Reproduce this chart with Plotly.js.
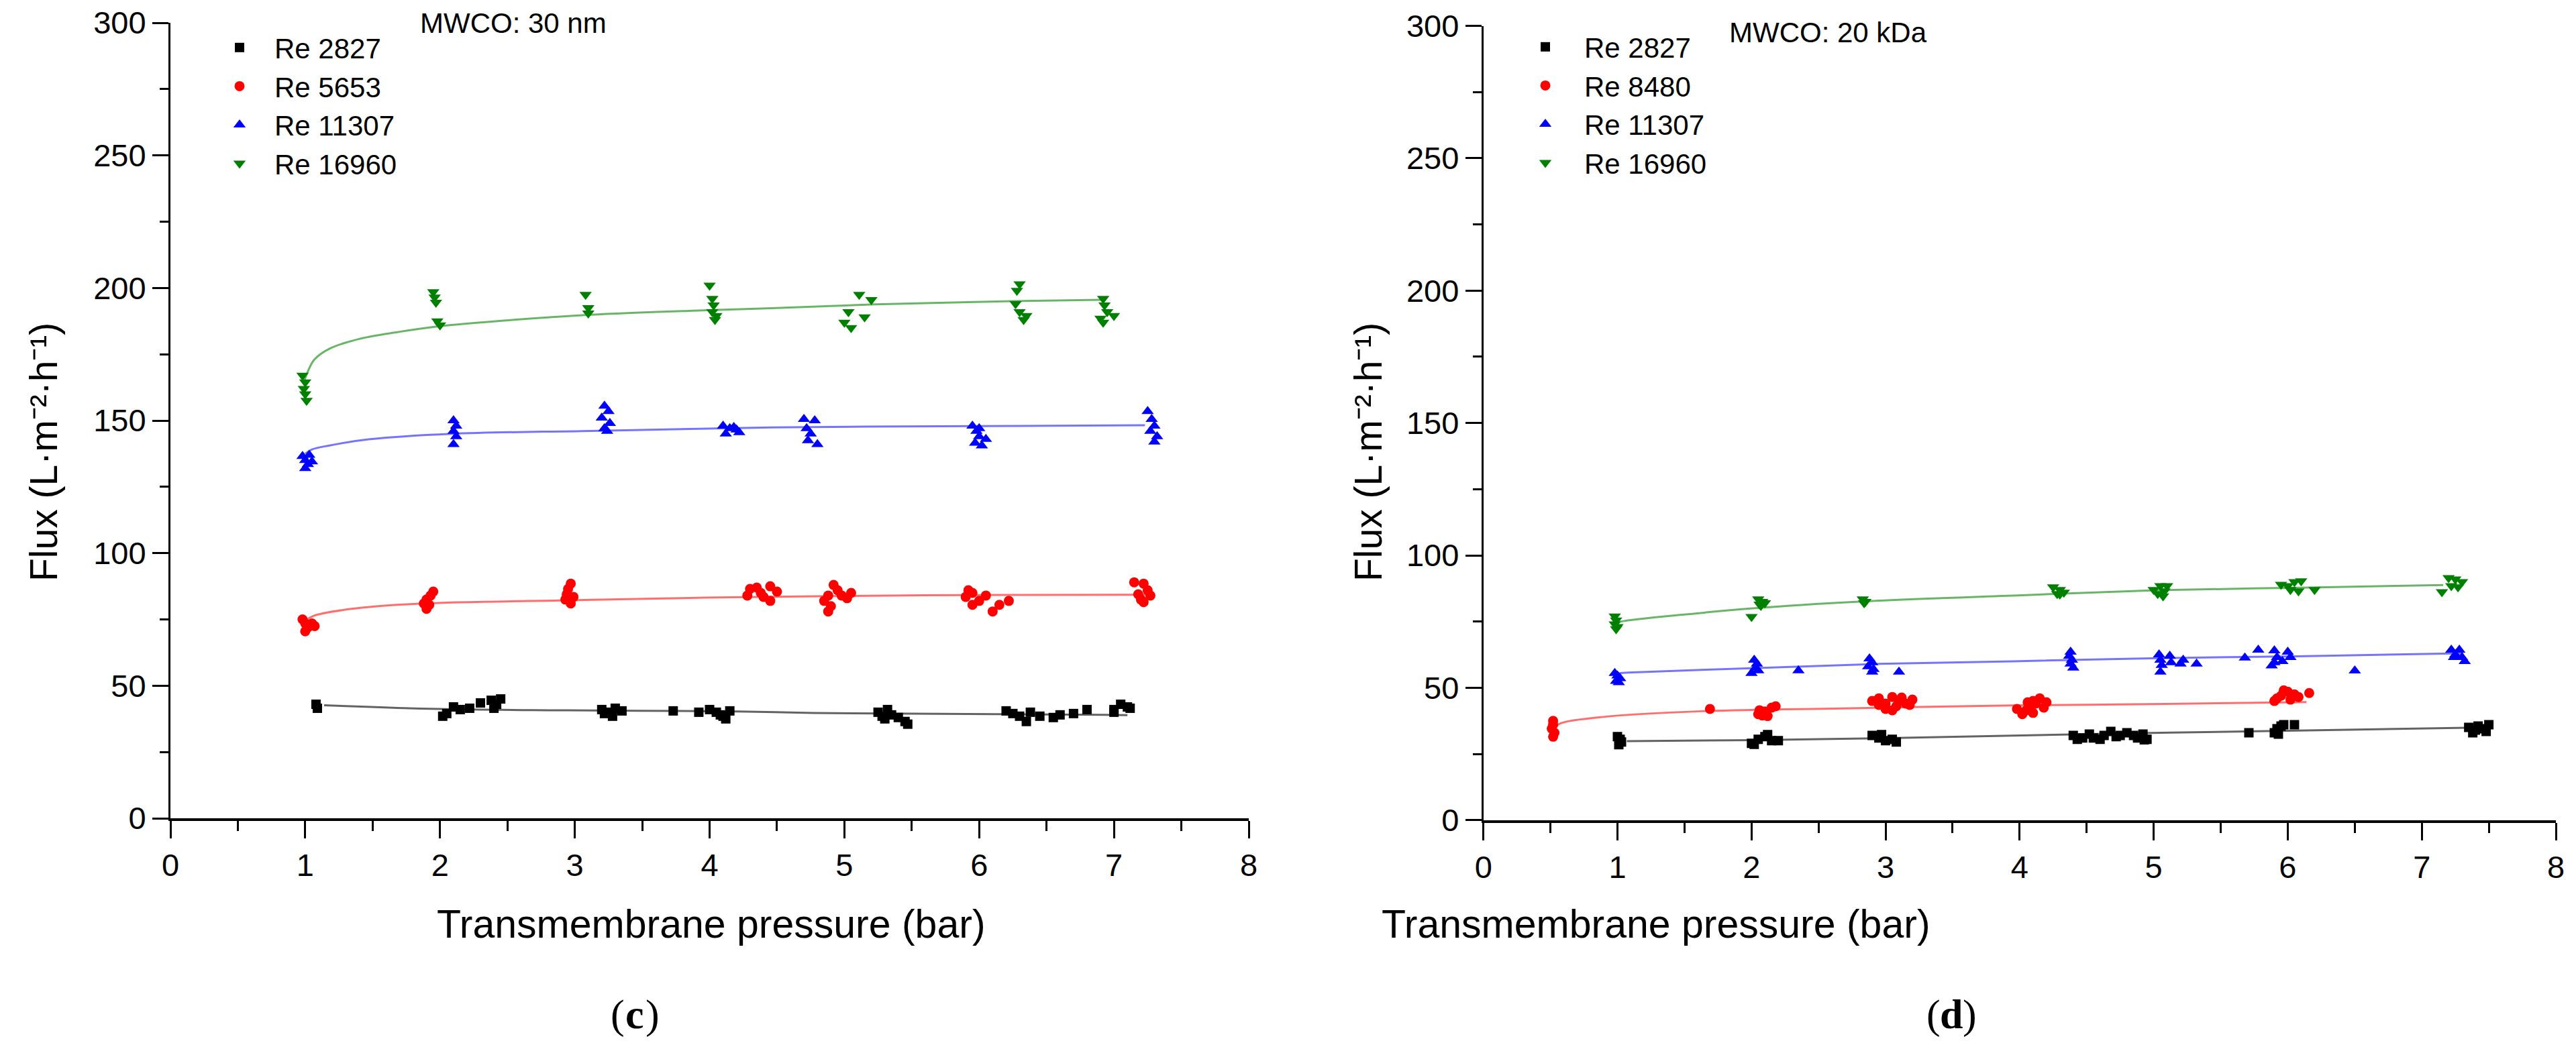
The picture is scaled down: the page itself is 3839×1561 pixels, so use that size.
<!DOCTYPE html>
<html>
<head>
<meta charset="utf-8">
<script src="https://cdn.plot.ly/plotly-3.0.1.min.js"></script>
<style>html,body{margin:0;padding:0;background:#fff;}#chart{width:3839px;height:1561px;}</style>
</head>
<body>
<div id="chart"></div>
<script>
// ---------- Panel (c): MWCO 30 nm ----------
const c_black_x = [1.08,1.09,2.05,2.1,2.15,2.02,2.22,2.3,2.38,2.42,2.45,2.4,3.2,3.25,3.3,3.28,3.22,3.35,3.73,3.92,4.0,4.05,4.08,4.12,4.1,4.15,5.25,5.28,5.3,5.35,5.4,5.45,5.47,5.32,6.2,6.25,6.3,6.35,6.38,6.45,6.55,6.6,6.7,6.8,7.0,7.05,7.1,7.0,7.12];
const c_black_y = [43,41.5,39.5,42,41,38.5,41.5,43.5,44.5,43,45,41.5,41,40,41.5,38.5,39.5,40.5,40.5,40,41,40,39,37.5,38.5,40.5,40,38.5,37.5,39,38,36.5,35.5,41,40.5,39.5,38.5,36.5,40,38.5,38,39,39.5,41,41,43,42,40,41.5];
const c_red_x = [0.98,1.0,1.02,1.05,1.0,1.07,1.95,1.93,1.9,1.88,1.9,1.92,2.97,2.95,2.94,2.93,2.97,2.99,4.3,4.35,4.45,4.28,4.38,4.45,4.4,4.5,4.92,4.95,4.88,4.98,5.02,4.85,4.9,4.88,5.05,5.92,5.95,5.9,6.0,5.95,6.05,6.1,6.15,6.22,7.15,7.22,7.25,7.18,7.2,7.27,7.22];
const c_red_y = [75,73.5,72,73.5,70.5,72.5,85.5,84,82.5,81,79,80.5,88.5,86.5,84.5,82.5,81,83.5,86.5,87,87.5,84,85,82,83.5,85.5,88,86,84,84,83,82,80,78,85,86,85,83.5,82,80.5,84,78,80.5,82,89,88.5,86,84.5,82.5,84,81.5];
const c_blue_x = [0.98,1.0,1.02,1.03,1.0,1.05,2.1,2.12,2.1,2.12,2.1,3.22,3.25,3.2,3.26,3.22,3.24,4.1,4.15,4.2,4.12,4.18,4.22,4.7,4.78,4.72,4.75,4.73,4.8,5.95,5.98,6.0,6.05,5.97,6.02,6.0,7.25,7.28,7.3,7.27,7.32,7.3];
const c_blue_y = [136.5,135,133.5,137,132,134.5,150,148,146,144,141,155.5,153.5,151,149,147,146,148,147,146.5,145,147.5,145.5,150.5,150,147,145,142.5,141,148,146,144,143,141.5,140.5,147,153.5,150.5,148,146,144,142];
const c_green_x = [0.98,1.0,0.99,1.0,1.01,1.95,1.96,1.97,1.98,2.0,3.08,3.1,3.1,4.0,4.02,4.03,4.02,4.05,4.04,5.11,5.2,5.03,5.15,5.0,5.05,6.3,6.28,6.27,6.3,6.35,6.33,6.92,6.93,6.95,6.9,7.0,6.92];
const c_green_y = [167,164.5,162,160,157.5,198.5,196.5,194.5,187.5,186,197.5,192.5,190.5,201,196,193.5,191,189.5,188,197.5,195.5,191,189,187,185,201.5,199,194,191,189.5,188,196,193.5,191,188.5,189.5,187];
// fitted curves
const c_fit_black_x = [1.14,2.0,2.95,4.21,4.77,6.12,6.93,7.1];
const c_fit_black_y = [42.6,41.2,40.7,40.3,39.7,39.3,39.0,38.9];
const c_fit_red_x = [1.0,1.06,1.33,1.87,2.95,3.96,5.58,7.15,7.25];
const c_fit_red_y = [74.5,76.3,78.9,81.0,82.2,83.2,84.1,84.3,84.4];
const c_fit_blue_x = [1.0,1.05,1.18,1.47,2.09,3.12,4.46,5.99,7.23];
const c_fit_blue_y = [137.5,139.1,140.6,142.9,145.0,146.1,147.4,147.9,148.2];
const c_fit_green_x = [0.99,1.017,1.066,1.18,1.41,1.69,1.98,2.55,3.12,3.98,4.46,5.23,6.24,6.9];
const c_fit_green_y = [164.5,168.2,172.9,177.1,180.9,183.4,185.5,188.0,189.9,191.6,192.4,193.8,195.0,195.5];

// ---------- Panel (d): MWCO 20 kDa ----------
const d_black_x = [1.0,1.02,1.03,1.01,2.0,2.05,2.1,2.12,2.15,2.2,2.02,2.9,2.95,3.0,3.05,3.08,2.97,4.4,4.43,4.47,4.52,4.55,4.6,4.63,4.68,4.72,4.75,4.8,4.85,4.88,4.92,4.95,4.93,5.71,5.9,5.92,5.95,5.93,5.97,6.05,7.35,7.4,7.45,7.5,7.48,7.42,7.38];
const d_black_y = [31.5,30.5,29.5,28.5,29,30.5,31.5,32.3,30,30,28.6,32,31,30,30.5,29.5,32.3,32,30.5,31,32.5,31,30.5,32,33.5,31.5,32,33,32,31,32.5,30.5,30.3,33,33,34.5,35.5,32.5,36,36,35,34,34.5,36,33.5,35.5,33];
const d_red_x = [0.52,0.52,0.51,0.53,0.52,1.69,2.05,2.08,2.1,2.15,2.18,2.12,2.06,2.9,2.95,3.0,3.05,3.1,3.15,3.2,3.0,3.08,3.12,2.95,3.05,3.18,3.98,4.02,4.05,4.08,4.1,4.12,4.15,4.18,4.2,4.1,4.06,5.9,5.95,6.0,6.05,5.92,6.02,5.97,6.08,6.16];
const d_red_y = [37.5,36,34.5,33,31.5,42,40,39.5,41,42.5,43,39.3,41.5,45,46,44,46.5,45,44,45.5,42,43,46.3,43.5,41.5,43.5,42,40,41.5,43,45,44,46,42.5,44.5,40.5,44.5,45,47,48.5,47.5,46,45.5,49,46.5,48];
const d_blue_x = [0.98,1.0,1.02,0.99,1.01,2.02,2.04,2.03,2.05,2.0,2.35,2.88,2.9,2.87,2.91,2.9,3.1,4.38,4.37,4.39,4.38,4.4,5.04,5.05,5.06,5.05,5.12,5.13,5.22,5.2,5.32,5.68,5.78,5.9,5.92,5.9,5.88,6.0,6.02,5.96,6.5,7.22,7.28,7.25,7.3,7.32,7.24];
const d_blue_y = [55.5,54.5,53.5,52.5,52,60.5,59,57.5,56.5,55.5,56.5,61,59.5,58,57,56,56,63.5,62,60.5,59,57.5,62.5,60.5,58.5,56,62,59.5,60.5,59,59,61.3,64.3,64,61.5,59.5,58.3,63.5,61.5,60,56.4,64.3,64.3,62.5,61.5,60,61.5];
const d_green_x = [0.98,0.99,0.98,1.0,0.99,2.05,2.08,2.06,2.1,2.07,2.0,2.83,2.85,2.84,4.25,4.3,4.33,4.28,4.3,5.05,5.1,5.0,5.08,5.03,5.07,5.95,6.0,6.05,6.1,6.02,6.08,6.2,7.2,7.25,7.3,7.22,7.27,7.15];
const d_green_y = [77,75.5,74,73,72.2,83.5,82.5,81.5,82,81,76.8,83.5,82.5,82,88,87,86,85.5,85.3,88.5,88.5,87,86.5,85.5,84.6,89,88.5,90,90.3,87,86.5,87,91.5,91,90,88.5,88,86.2];
const d_fit_black_x = [1.07,2.0,2.95,3.95,4.98,6.07,7.34];
const d_fit_black_y = [29.8,30.2,30.9,31.9,32.9,33.8,34.9];
const d_fit_red_x = [0.53,0.56,0.92,1.67,2.68,3.95,4.98,6.14];
const d_fit_red_y = [34.5,36.2,39.1,41.2,42.2,43.3,43.8,44.6];
const d_fit_blue_x = [1.0,1.08,2.0,2.95,3.95,4.98,6.07,7.31];
const d_fit_blue_y = [55.4,55.7,57.4,59.0,60.0,61.1,61.9,63.0];
const d_fit_green_x = [0.99,1.05,1.99,2.83,4.05,5.02,6.09,7.16];
const d_fit_green_y = [74.6,75.2,79.9,82.6,85.0,86.8,87.8,88.8];

const c_names = ['Re 2827','Re 5653','Re 11307','Re 16960'];
const d_names = ['Re 2827','Re 8480','Re 11307','Re 16960'];
const colors = ['#000000','#ff0000','#0000ff','#008000'];
const lineColors = ['rgba(60,60,60,0.8)','rgba(255,60,60,0.75)','rgba(70,70,255,0.75)','rgba(40,150,40,0.7)'];
const symbols = ['square','circle','triangle-up','triangle-down'];
const sizes = [14,15,16,16];

const FONT = 'Liberation Sans, Arial, sans-serif';
const SERIF = 'Liberation Serif, Times New Roman, serif';
const W = 3839, H = 1561;
const px = v => v / W;
const py = v => 1 - v / H;

function panel(fitX, fitY, ptsX, ptsY, names, xa, ya, legendId) {
  const out = [];
  for (let i = 0; i < 4; i++) {
    out.push({x: fitX[i], y: fitY[i], xaxis: xa, yaxis: ya, mode: 'lines', type: 'scatter',
      line: {color: lineColors[i], width: 3, shape: 'spline', smoothing: 1}, showlegend: false, hoverinfo: 'skip'});
  }
  for (let i = 0; i < 4; i++) {
    out.push({x: ptsX[i], y: ptsY[i], xaxis: xa, yaxis: ya, mode: 'markers', type: 'scatter', name: names[i],
      legend: legendId,
      marker: {symbol: symbols[i], size: sizes[i], color: colors[i], line: {width: 0}}});
  }
  return out;
}

const data = [].concat(
  panel([c_fit_black_x,c_fit_red_x,c_fit_blue_x,c_fit_green_x],[c_fit_black_y,c_fit_red_y,c_fit_blue_y,c_fit_green_y],
        [c_black_x,c_red_x,c_blue_x,c_green_x],[c_black_y,c_red_y,c_blue_y,c_green_y], c_names,'x','y','legend'),
  panel([d_fit_black_x,d_fit_red_x,d_fit_blue_x,d_fit_green_x],[d_fit_black_y,d_fit_red_y,d_fit_blue_y,d_fit_green_y],
        [d_black_x,d_red_x,d_blue_x,d_green_x],[d_black_y,d_red_y,d_blue_y,d_green_y], d_names,'x2','y2','legend2')
);

function xaxis(domain, anchor) {
  return {domain: domain, anchor: anchor, range: [0, 8], dtick: 1, tick0: 0,
    showline: true, linewidth: 4, linecolor: '#000', showgrid: false, zeroline: false,
    ticks: 'outside', ticklen: 26, tickwidth: 3, tickcolor: '#000',
    minor: {dtick: 0.5, ticks: 'outside', ticklen: 15, tickwidth: 3, tickcolor: '#000', showgrid: false},
    tickfont: {family: FONT, size: 47, color: '#000'}, fixedrange: true};
}
function yaxis(domain, anchor) {
  return {domain: domain, anchor: anchor, range: [0, 300], dtick: 50, tick0: 0,
    showline: true, linewidth: 3, linecolor: '#000', showgrid: false, zeroline: false,
    ticks: 'outside', ticklen: 24, tickwidth: 3, tickcolor: '#000',
    minor: {dtick: 25, ticks: 'outside', ticklen: 13, tickwidth: 3, tickcolor: '#000', showgrid: false},
    tickfont: {family: FONT, size: 47, color: '#000'}, fixedrange: true};
}

const xTitle = 'Transmembrane pressure (bar)';
const yTitle = 'Flux (L·m\u207B\u00B2·h\u207B\u00B9)';
const ann = (x, y, text, opts) => Object.assign({xref: 'paper', yref: 'paper', x: x, y: y, text: text, showarrow: false,
  font: {family: FONT, size: 42, color: '#000'}}, opts || {});
const serifFont = (w) => ({family: SERIF, size: 62, color: '#000', weight: w});

const layout = {
  width: W, height: H,
  margin: {l: 0, r: 0, t: 0, b: 0, pad: 0},
  paper_bgcolor: '#fff', plot_bgcolor: '#fff',
  hovermode: false,
  xaxis: xaxis([px(254), px(1861)], 'y'),
  yaxis: yaxis([py(1220), py(34)], 'x'),
  xaxis2: xaxis([px(2210.7), px(3809)], 'y2'),
  yaxis2: yaxis([py(1222.7), py(38.6)], 'x2'),
  legend: {x: px(305), y: py(37), xanchor: 'left', yanchor: 'top', bgcolor: 'rgba(0,0,0,0)', borderwidth: 0,
    font: {family: FONT, size: 42, color: '#000'}, itemwidth: 94, tracegroupgap: 0},
  legend2: {x: px(2245), y: py(36), xanchor: 'left', yanchor: 'top', bgcolor: 'rgba(0,0,0,0)', borderwidth: 0,
    font: {family: FONT, size: 42, color: '#000'}, itemwidth: 106, tracegroupgap: 0},
  annotations: [
    ann(px(624), py(35), 'MWCO: 30 nm', {xanchor: 'left', yanchor: 'middle'}),
    ann(px(2575), py(48), 'MWCO: 20 kDa', {xanchor: 'left', yanchor: 'middle'}),
    ann(px(1060), py(1378), xTitle, {xanchor: 'center', yanchor: 'middle', font: {family: FONT, size: 59, color: '#000'}}),
    ann(px(2468), py(1378), xTitle, {xanchor: 'center', yanchor: 'middle', font: {family: FONT, size: 59, color: '#000'}}),
    ann(px(65), py(674), yTitle, {xanchor: 'center', yanchor: 'middle', textangle: -90, font: {family: FONT, size: 57, color: '#000'}}),
    ann(px(2039), py(674), yTitle, {xanchor: 'center', yanchor: 'middle', textangle: -90, font: {family: FONT, size: 57, color: '#000'}}),
    // panel labels "(c)" and "(d)" : parentheses regular, letter bold
    ann(px(932.5), py(1512), '(', {xanchor: 'right', yanchor: 'middle', font: serifFont('normal')}),
    ann(px(946), py(1512), 'c', {xanchor: 'center', yanchor: 'middle', font: serifFont('bold')}),
    ann(px(959.5), py(1512), ')', {xanchor: 'left', yanchor: 'middle', font: serifFont('normal')}),
    ann(px(2893.5), py(1512), '(', {xanchor: 'right', yanchor: 'middle', font: serifFont('normal')}),
    ann(px(2908), py(1512), 'd', {xanchor: 'center', yanchor: 'middle', font: serifFont('bold')}),
    ann(px(2922.5), py(1512), ')', {xanchor: 'left', yanchor: 'middle', font: serifFont('normal')})
  ]
};

Plotly.newPlot('chart', data, layout, {displayModeBar: false});
</script>
</body>
</html>
